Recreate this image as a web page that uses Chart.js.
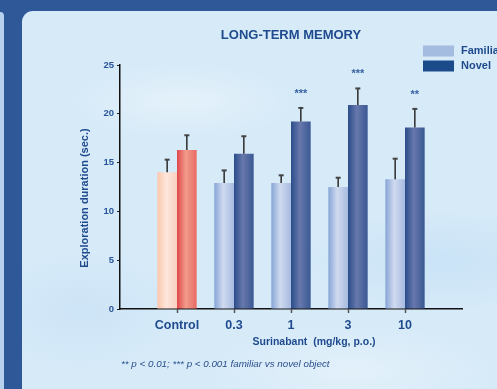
<!DOCTYPE html>
<html>
<head>
<meta charset="utf-8">
<title>Long-term memory</title>
<script src="https://cdn.jsdelivr.net/npm/chart.js@4"></script>
<style>
  html, body { margin: 0; padding: 0; }
  body {
    width: 497px; height: 389px; overflow: hidden; position: relative;
    background: #2f5898;
  }
  .side {
    position: absolute; left: 0; top: 12px; width: 4px; bottom: 0;
    background: #b7d2ee; border-top-right-radius: 4px;
  }
  .panel {
    position: absolute; left: 22px; top: 11px; right: 0; bottom: 0;
    border-top-left-radius: 11px;
    background:
      radial-gradient(ellipse 120px 40px at 160px 90px, rgba(255,255,255,0.35), rgba(255,255,255,0)),
      radial-gradient(ellipse 140px 50px at 420px 250px, rgba(190,220,245,0.5), rgba(190,220,245,0)),
      radial-gradient(ellipse 100px 60px at 60px 300px, rgba(200,225,246,0.6), rgba(200,225,246,0)),
      radial-gradient(ellipse 160px 50px at 330px 360px, rgba(255,255,255,0.3), rgba(255,255,255,0)),
      #d6eaf8;
  }
  #chart { position: absolute; left: 0; top: 0; }
</style>
</head>
<body>
<div class="side"></div>
<div class="panel"></div>
<canvas id="chart" width="497" height="389"></canvas>
<script>
// Exploration time per group (seconds), mean and upper SEM
const doses = ["Control", "0.3", "1", "3", "10"];
const familiarMeans = [14.0, 12.9, 12.9, 12.5, 13.3];
const familiarErr = [1.3, 1.3, 0.8, 0.95, 2.1];
const novelMeans = [16.3, 15.9, 19.2, 20.9, 18.6];
const novelErr = [1.5, 1.8, 1.4, 1.7, 1.9];
const significance = ["", "", "***", "***", "**"];
const yTicks = { min: 0, max: 25, step: 5 };

const FONT = "'Liberation Sans', Arial, Helvetica, sans-serif";
const TEXT_BLUE = "#1f4b8e";
const CAT_PCT = 0.69;

// empty slots either side so the axis runs past the first and last group
const pad = (arr, fill) => [fill, ...arr, fill];
const labels = pad(doses, "");

// colour stops for the shaded bars: [control, treated]
const shades = {
  familiar: [
    ["#fbc6ac", "#fee6dc", "#f8d0c0"],
    ["#86a5d6", "#d0daef", "#a7bbe0"],
  ],
  novel: [
    ["#e0474a", "#f29c8c", "#e86a62"],
    ["#2b4d8a", "#6778ac", "#3a5893"],
  ],
};

function barFill(kind) {
  return function (context) {
    const chart = context.chart;
    const x = chart.scales.x;
    const stops = shades[kind][context.dataIndex === 1 ? 0 : 1];
    if (!x || !isFinite(x.getPixelForValue(1))) return stops[0];
    const center = x.getPixelForValue(context.dataIndex);
    const spacing = x.getPixelForValue(1) - x.getPixelForValue(0);
    const w = (spacing * CAT_PCT) / 2;
    const left = kind === "familiar" ? center - w : center;
    const g = chart.ctx.createLinearGradient(left, 0, left + w, 0);
    g.addColorStop(0, stops[0]);
    g.addColorStop(0.45, stops[1]);
    g.addColorStop(1, stops[2]);
    return g;
  };
}

// error bars (upper half only) and significance stars
const errorBars = {
  id: "errorBars",
  afterDatasetsDraw(chart) {
    const { ctx } = chart;
    const y = chart.scales.y;
    chart.data.datasets.forEach((ds, di) => {
      const meta = chart.getDatasetMeta(di);
      meta.data.forEach((bar, i) => {
        const v = ds.data[i];
        if (v == null) return;
        const topY = y.getPixelForValue(v + ds.errors[i]);
        ctx.save();
        ctx.strokeStyle = "#2b2b2b";
        ctx.lineWidth = 1.5;
        ctx.beginPath();
        ctx.moveTo(bar.x, bar.y);
        ctx.lineTo(bar.x, topY);
        ctx.stroke();
        ctx.strokeStyle = "#444";
        ctx.lineWidth = 2;
        ctx.beginPath();
        ctx.moveTo(bar.x - 2.5, topY);
        ctx.lineTo(bar.x + 2.5, topY);
        ctx.stroke();
        const stars = ds.stars ? ds.stars[i] : "";
        if (stars) {
          ctx.fillStyle = "#3a62a4";
          ctx.font = "bold 11px " + FONT;
          ctx.textAlign = "center";
          ctx.textBaseline = "middle";
          ctx.fillText(stars, bar.x, topY - 14);
        }
        ctx.restore();
      });
    });
  },
};

// title, legend, axis titles and footnote
const annotations = {
  id: "annotations",
  afterDraw(chart) {
    const { ctx, chartArea } = chart;
    ctx.save();
    ctx.fillStyle = TEXT_BLUE;
    ctx.textBaseline = "middle";

    ctx.textAlign = "center";
    ctx.font = "bold 13px " + FONT;
    ctx.fillText("LONG-TERM MEMORY", (chartArea.left + chartArea.right) / 2, 35);

    // legend
    const legendColors = ["#a3bce0", "#1c4b8c"];
    const legendRows = [51, 66];
    chart.data.datasets.forEach((ds, i) => {
      ctx.fillStyle = legendColors[i];
      ctx.fillRect(423, legendRows[i] - 5.5, 31, 11);
      ctx.fillStyle = TEXT_BLUE;
      ctx.textAlign = "left";
      ctx.font = "bold 11px " + FONT;
      ctx.fillText(ds.label, 461, legendRows[i]);
    });

    ctx.textAlign = "center";
    ctx.font = "bold 10.5px " + FONT;
    ctx.fillText("Surinabant  (mg/kg, p.o.)", 314, 342);

    ctx.save();
    ctx.translate(85, 198);
    ctx.rotate(-Math.PI / 2);
    ctx.font = "bold 11px " + FONT;
    ctx.fillText("Exploration duration (sec.)", 0, 0);
    ctx.restore();

    ctx.textAlign = "left";
    ctx.font = "italic 9.8px " + FONT;
    ctx.fillStyle = "#2a4f8e";
    ctx.fillText("** p < 0.01; *** p < 0.001 familiar vs novel object", 121, 364);
    ctx.restore();
  },
};

const lastIndex = labels.length - 1;

new Chart(document.getElementById("chart"), {
  type: "bar",
  data: {
    labels: labels,
    datasets: [
      {
        label: "Familiar",
        data: pad(familiarMeans, null),
        errors: pad(familiarErr, 0),
        backgroundColor: barFill("familiar"),
        categoryPercentage: CAT_PCT,
        barPercentage: 1,
      },
      {
        label: "Novel",
        data: pad(novelMeans, null),
        errors: pad(novelErr, 0),
        stars: pad(significance, ""),
        backgroundColor: barFill("novel"),
        categoryPercentage: CAT_PCT,
        barPercentage: 1,
      },
    ],
  },
  options: {
    responsive: false,
    animation: false,
    layout: { padding: { top: 65, right: 35, bottom: 50, left: 0 } },
    plugins: {
      legend: { display: false },
      title: { display: false },
      tooltip: { enabled: false },
    },
    scales: {
      x: {
        type: "category",
        offset: false,
        grid: {
          offset: false,
          drawOnChartArea: false,
          tickLength: 4,
          tickWidth: 1.5,
          color: (c) => (c.index === 0 || c.index === lastIndex ? "rgba(0,0,0,0)" : "#555"),
        },
        border: { color: "#111", width: 1.5 },
        ticks: {
          autoSkip: false,
          maxRotation: 0,
          padding: 5,
          color: TEXT_BLUE,
          font: { family: FONT, size: 12.5, weight: "bold" },
        },
        afterFit(scale) { scale.height = 30; },
      },
      y: {
        min: yTicks.min,
        max: yTicks.max,
        grid: { drawOnChartArea: false, tickLength: 3, color: "#222" },
        border: { color: "#111", width: 1.5 },
        ticks: {
          stepSize: yTicks.step,
          padding: 3,
          color: "#2a5599",
          font: { family: FONT, size: 9.5, weight: "bold" },
        },
        afterFit(scale) { scale.width = 120; },
      },
    },
  },
  plugins: [errorBars, annotations],
});
</script>
</body>
</html>
